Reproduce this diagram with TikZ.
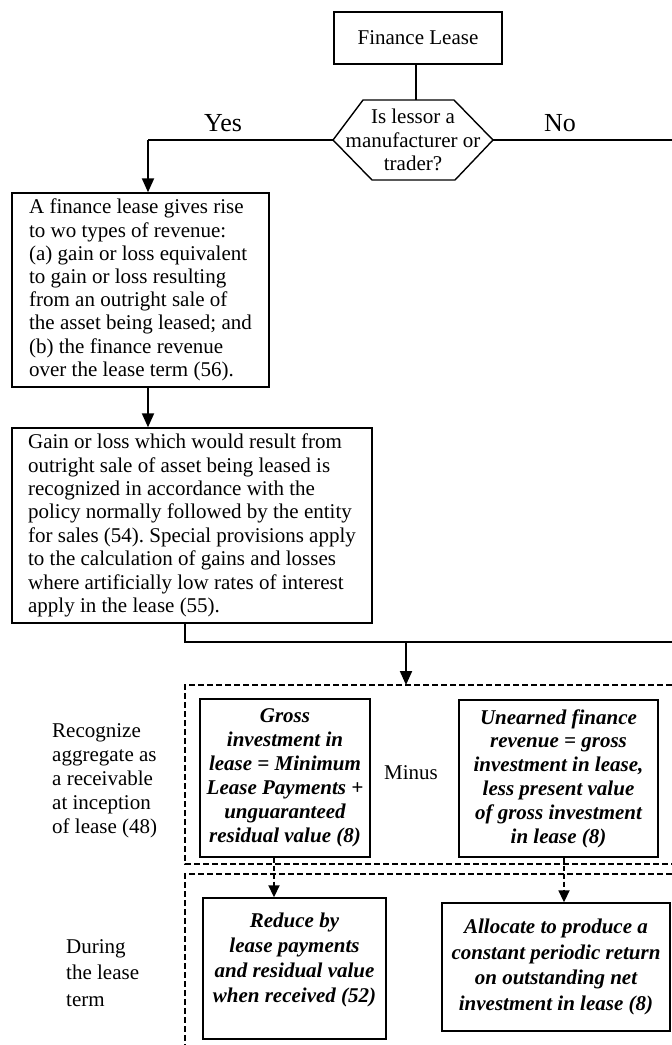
\documentclass[tikz,border=0pt]{standalone}
\usepackage{fontspec}
\setmainfont{Liberation Serif}
\usetikzlibrary{arrows.meta}
\frenchspacing
\newcommand\myreg{\fontsize{21}{23.2}\selectfont}
\newcommand\myyes{\fontsize{26}{28}\selectfont}
\tikzset{
  box/.style={draw, line width=1.4pt, inner sep=0pt, font=\myreg},
  bibox/.style={draw, line width=1.4pt, inner sep=0pt, align=center},
  conn/.style={line width=1.3pt},
  arr/.style={line width=2pt, -{Triangle[length=14pt,width=12pt]}},
  darr/.style={line width=1.8pt, dash pattern=on 5pt off 3pt, -{Triangle[length=12pt,width=11pt]}},
  dbox/.style={line width=2pt, dash pattern=on 6pt off 3pt},
  lbl/.style={inner sep=0pt, align=left, anchor=west},
}
\begin{document}
\begin{tikzpicture}[x=1pt,y=-1pt]
\useasboundingbox[fill=white] (0,0) rectangle (672,1045);

% top box
\node[box, minimum width=168pt, minimum height=52pt] (fl) at (418,38) {Finance Lease};

% hexagon decision
\coordinate (hT) at (416,100);
\coordinate (hL) at (333,140);
\coordinate (hR) at (493,140);
\draw[line width=1.4pt] (363,100) -- (454,100) -- (hR) -- (455,180) -- (372,180) -- (hL) -- cycle;
\node[font=\myreg, align=center, inner sep=0pt] (hex) at (413,140) {Is lessor a\\manufacturer or\\trader?};
\draw[conn] (fl.south -| hT) -- (hT);

\node[font=\myyes, inner sep=0pt] (yes) at (223,123) {Yes};
\node[font=\myyes, inner sep=0pt] (no) at (560,123) {No};

% Yes branch
\coordinate (yc) at (148,140);
\draw[conn] (hL) -- (yc);
\node[box, align=left, minimum width=257pt, minimum height=194pt] (b1) at (140.5,290)
 {A finance lease gives rise\\to wo types of revenue:\\(a) gain or loss equivalent\\to gain or loss resulting\\from an outright sale of\\the asset being leased; and\\(b) the finance revenue\\over the lease term (56).};
\draw[arr] (yc) -- (yc |- b1.north);

\node[box, align=left, minimum width=360pt, minimum height=195pt, font={\fontsize{21}{23.4}\selectfont}] (b2) at (192,525.5)
 {Gain or loss which would result from\\outright sale of asset being leased is\\recognized in accordance with the\\policy normally followed by the entity\\for sales (54). Special provisions apply\\to the calculation of gains and losses\\where artificially low rates of interest\\apply in the lease (55).};
\coordinate (ax) at (148,0);
\draw[arr] (b1.south -| ax) -- (b2.north -| ax);

% No branch
\coordinate (noE) at (672,140);
\draw[conn] (hR) -- (noE);

% join
\coordinate (j1) at (185,642);
\coordinate (jE) at (672,642);
\draw[conn] (b2.south -| j1) -- (j1) -- (jE);
\coordinate (jA) at (406,642);
\coordinate (dA) at (406,685);
\draw[arr] (jA) -- (dA);

% dashed regions
\draw[dbox] (672,685) -- (185,685) -- (185,864) -- (672,864);
\draw[dbox] (672,874) -- (185,874) -- (185,1050);

% left labels
\node[lbl, font={\fontsize{21}{24}\selectfont}] (rec) at (52,781)
 {Recognize\\aggregate as\\a receivable\\at inception\\of lease (48)};
\node[lbl, font={\fontsize{21}{26.5}\selectfont}] (dur) at (66,973)
 {During\\the lease\\term};

% inception boxes
\node[bibox, font={\fontsize{21}{24}\bfseries\itshape\selectfont}, minimum width=170pt, minimum height=158pt] (gross) at (285,778)
 {Gross\\investment in\\lease = Minimum\\Lease Payments +\\unguaranteed\\residual value (8)};
\node[font=\myreg, inner sep=0pt] (minus) at (411,773) {Minus};
\node[bibox, font={\fontsize{21}{23.8}\bfseries\itshape\selectfont}, minimum width=199pt, minimum height=157pt] (unearned) at (558.5,778.5)
 {Unearned finance\\revenue = gross\\investment in lease,\\less present value\\of gross investment\\in lease (8)};

% lease term boxes
\node[draw, line width=1.4pt, minimum width=183pt, minimum height=141pt, inner sep=0pt] (reduce) at (294.5,968.5) {};
\node[align=center, inner sep=0pt, font={\fontsize{21}{25}\bfseries\itshape\selectfont}] (reduceT) at (294.5,959.5)
 {Reduce by\\lease payments\\and residual value\\when received (52)};
\node[bibox, font={\fontsize{21}{25.7}\bfseries\itshape\selectfont}, minimum width=228pt, minimum height=128pt] (alloc) at (556,967)
 {Allocate to produce a\\constant periodic return\\on outstanding net\\investment in lease (8)};

% dashed arrows
\coordinate (gx) at (274,0);
\coordinate (ux) at (564,0);
\draw[darr] (gross.south -| gx) -- (reduce.north -| gx);
\draw[darr] (unearned.south -| ux) -- (alloc.north -| ux);
\end{tikzpicture}
\end{document}
